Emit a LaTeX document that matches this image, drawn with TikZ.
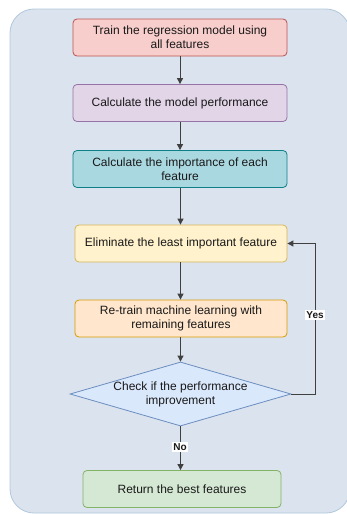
\documentclass[tikz,border=0pt]{standalone}
\usepackage{fontspec}
\setmainfont{Liberation Sans}
\usetikzlibrary{shapes.geometric,arrows.meta}
\definecolor{bgfill}{HTML}{DBE3EE}
\definecolor{bgdraw}{HTML}{B0C8DC}
\definecolor{f1}{HTML}{F8CECC}\definecolor{d1}{HTML}{B85450}
\definecolor{f2}{HTML}{E1D5E7}\definecolor{d2}{HTML}{9673A6}
\definecolor{f3}{HTML}{AAD8E0}\definecolor{d3}{HTML}{0E8088}
\definecolor{f4}{HTML}{FFF2CC}\definecolor{d4}{HTML}{D6B656}
\definecolor{f5}{HTML}{FFE6CC}\definecolor{d5}{HTML}{D79B00}
\definecolor{f6}{HTML}{DAE8FC}\definecolor{d6}{HTML}{6C8EBF}
\definecolor{f7}{HTML}{D5E8D4}\definecolor{d7}{HTML}{82B366}
\begin{document}
\begin{tikzpicture}[x=1pt,y=-1pt,
  every node/.style={font=\fontsize{12}{14}\selectfont, text=black!90, align=center},
  stepbox/.style={draw, rounded corners=4pt, line width=0.8pt, minimum width=214pt, minimum height=37pt, inner sep=0pt},
  arr/.style={-{Triangle[length=6pt,width=6pt]}, line width=0.9pt, black!75},
  lbl/.style={fill=white, font=\fontsize{10}{12}\selectfont\bfseries, inner sep=1.5pt}
]
\useasboundingbox (0,0) rectangle (347,514);
\path[fill=bgfill, draw=bgdraw, line width=0.8pt, rounded corners=24pt] (10,9) rectangle (350,513);
\node[stepbox, fill=f1, draw=d1] (n1) at (180,37.5) {Train the regression model using\\all features};
\node[stepbox, fill=f2, draw=d2] (n2) at (180,103) {Calculate the model performance};
\node[stepbox, fill=f3, draw=d3] (n3) at (180,169) {Calculate the importance of each\\feature};
\node[stepbox, minimum width=212pt, fill=f4, draw=d4] (n4) at (181,243.5) {Eliminate the least important feature};
\node[stepbox, minimum width=212pt, fill=f5, draw=d5] (n5) at (181,318.5) {Re-train machine learning with\\remaining features};
\node[diamond, draw=d6, fill=f6, line width=0.8pt, minimum width=193pt, minimum height=56pt, aspect=3.45, inner sep=0pt] (d) at (180.5,394) {Check if the performance\\improvement};
\node[stepbox, minimum width=198pt, fill=f7, draw=d7] (n6) at (182,489) {Return the best features};
\draw[arr] (n1) -- (n2);
\draw[arr] (n2) -- (n3);
\draw[arr] (n3.south -| d.north) -- (n4.north -| d.north);
\draw[arr] (n4.south -| d.north) -- (n5.north -| d.north);
\draw[arr] (n5.south -| d.north) -- (d.north);
\coordinate (c1) at (315,394);
\coordinate (c2) at (315,243.5);
\draw[arr] (d.east) -- (c1) -- (c2) -- (n4.east);
\node[lbl] (yes) at (315,315) {Yes};
\draw[arr] (d.south) -- (d.south |- n6.north);
\node[lbl] (no) at (180,447) {No};
\end{tikzpicture}
\end{document}
